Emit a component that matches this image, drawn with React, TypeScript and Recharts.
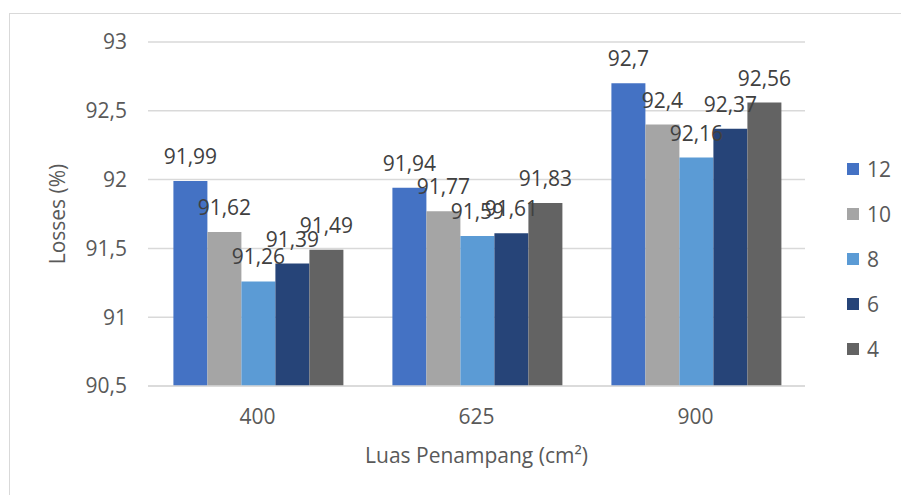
import React from "react";
import {
  BarChart,
  Bar,
  CartesianGrid,
  XAxis,
  YAxis,
  Legend,
  LabelList,
} from "recharts";

const categories = ["400", "625", "900"];
const seriesNames = ["12", "10", "8", "6", "4"];
const colors = ["#4472C4", "#A5A5A5", "#5B9BD5", "#264478", "#636363"];

const values12 = [91.99, 91.94, 92.7];
const values10 = [91.62, 91.77, 92.4];
const values8 = [91.26, 91.59, 92.16];
const values6 = [91.39, 91.61, 92.37];
const values4 = [91.49, 91.83, 92.56];

const yTicks = [90.5, 91, 91.5, 92, 92.5, 93];

const allValues = [values12, values10, values8, values6, values4];

const data = categories.map((c, i) => {
  const row: Record<string, string | number> = { name: c };
  seriesNames.forEach((s, j) => {
    row["s" + s] = allValues[j][i];
  });
  return row;
});

const comma = (v: number | string) => String(v).replace(".", ",");

const FONT = "'Open Sans', sans-serif";

const LegendBox = () => (
  <div style={{ fontFamily: FONT, fontSize: 21, color: "#595959" }}>
    {seriesNames.map((s, i) => (
      <div
        key={s}
        style={{ height: 45, display: "flex", alignItems: "center" }}
      >
        <span
          style={{
            width: 12,
            height: 12,
            background: colors[i],
            display: "inline-block",
            marginRight: 8,
          }}
        />
        <span>{s}</span>
      </div>
    ))}
  </div>
);

export default function App() {
  return (
    <div
      style={{
        position: "absolute",
        left: 0,
        top: 0,
        width: 901,
        height: 495,
        overflow: "hidden",
        background: "#fff",
      }}
    >
      <div
        style={{
          position: "absolute",
          left: 9,
          top: 13,
          width: 920,
          height: 520,
          border: "1px solid #d9d9d9",
        }}
      />
      <div style={{ position: "absolute", left: 0, top: 0 }}>
        <BarChart
          width={901}
          height={495}
          data={data}
          margin={{ top: 42, right: 96, bottom: 29, left: 0 }}
          barCategoryGap="11.6%"
          barGap={0}
          style={{ fontFamily: FONT }}
        >
          <CartesianGrid vertical={false} stroke="#d9d9d9" strokeWidth={1.5} />
          <XAxis
            dataKey="name"
            height={80}
            axisLine={{ stroke: "#d9d9d9", strokeWidth: 1.5 }}
            tickLine={false}
            tickSize={6}
            tickMargin={17}
            tick={{ fill: "#595959", fontSize: 21 }}
            label={{
              value: "Luas Penampang (cm²)",
              position: "insideBottom",
              offset: 3,
              fill: "#595959",
              fontSize: 21,
            }}
          />
          <YAxis
            width={148}
            domain={[90.5, 93]}
            ticks={yTicks}
            axisLine={false}
            tickLine={false}
            tickSize={6}
            tickMargin={15}
            tickFormatter={comma}
            tick={{ fill: "#595959", fontSize: 21 }}
            label={{
              value: "Losses (%)",
              angle: -90,
              position: "insideLeft",
              offset: 58,
              fill: "#595959",
              fontSize: 21,
              style: { textAnchor: "middle" },
            }}
          />
          <Legend
            layout="vertical"
            align="center"
            verticalAlign="middle"
            content={() => <LegendBox />}
            wrapperStyle={{ left: 847, top: 146, width: 60 }}
          />
          {seriesNames.map((s, i) => (
            <Bar
              key={s}
              dataKey={"s" + s}
              name={s}
              fill={colors[i]}
              isAnimationActive={false}
            >
              <LabelList
                dataKey={"s" + s}
                position="top"
                offset={17}
                formatter={(v: any) => comma(v)}
                style={{ fill: "#404040", fontSize: 21 }}
              />
            </Bar>
          ))}
        </BarChart>
      </div>
    </div>
  );
}
